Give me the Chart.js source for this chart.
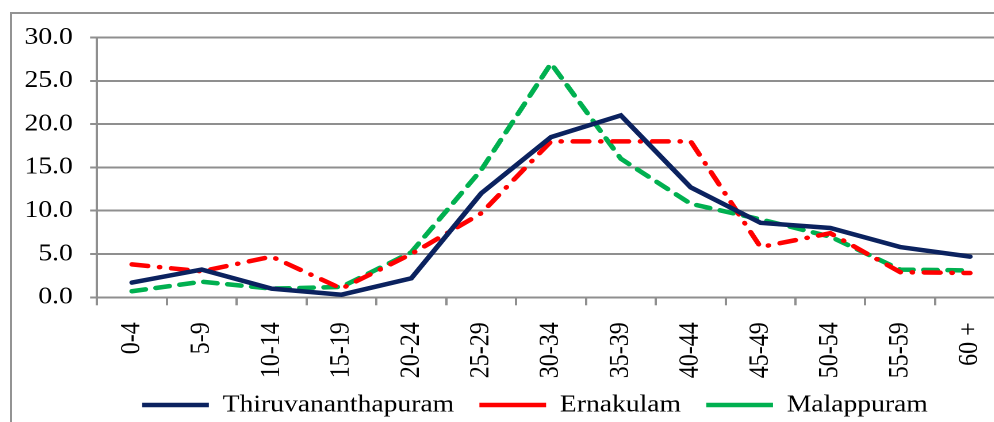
<!DOCTYPE html>
<html>
<head>
<meta charset="utf-8">
<script src="https://cdn.jsdelivr.net/npm/chart.js@4.4.1/dist/chart.umd.min.js"></script>
<style>
  html, body { margin: 0; padding: 0; width: 994px; height: 422px; overflow: hidden; background: #fff; }
  #frame { position: absolute; left: 10px; top: 12px; width: 1200px; height: 500px; border: 2px solid #939393; }
  /* the source picture is stretched sideways, so the canvas is too */
  #wrap { position: absolute; left: 10px; top: 13px; width: 939px; height: 414px; transform: scaleX(1.15); transform-origin: 0 0; }
</style>
</head>
<body>
<div id="frame"></div>
<div id="wrap"><canvas id="ageChart" width="939" height="414"></canvas></div>
<script>
// age groups and % share per district
var ageGroups = ['0-4', '5-9', '10-14', '15-19', '20-24', '25-29', '30-34', '35-39', '40-44', '45-49', '50-54', '55-59', '60 +'];
var thiruvananthapuram = [1.7, 3.2, 1.0, 0.3, 2.2, 12.0, 18.5, 21.0, 12.7, 8.6, 8.0, 5.8, 4.7];
var ernakulam = [3.8, 3.0, 4.7, 1.0, 5.0, 9.7, 18.0, 18.0, 18.0, 5.8, 7.4, 2.9, 2.8];
var malappuram = [0.7, 1.8, 1.0, 1.2, 5.2, 14.7, 27.0, 16.0, 10.8, 9.0, 7.0, 3.2, 3.1];
var yTicks = [0, 5, 10, 15, 20, 25, 30];

document.addEventListener("DOMContentLoaded", function() {
    var ctx = document.getElementById('ageChart').getContext('2d');
    var serif = "'Liberation Serif', 'Times New Roman', serif";
    var gridGray = '#8f8f8f';

    var chart = new Chart(ctx, {
        type: 'line',
        data: {
            labels: ageGroups,
            datasets: [{
                label: 'Thiruvananthapuram',
                data: thiruvananthapuram,
                borderColor: '#0b225f',
                backgroundColor: '#0b225f',
                borderWidth: 4.5,
                borderCapStyle: 'round',
                tension: 0,
                pointRadius: 0
            }, {
                label: 'Ernakulam',
                data: ernakulam,
                borderColor: '#ff0000',
                backgroundColor: '#ff0000',
                borderWidth: 4.5,
                borderDash: [14, 10, 0.5, 10],
                borderCapStyle: 'round',
                tension: 0,
                pointRadius: 0
            }, {
                label: 'Malappuram',
                data: malappuram,
                borderColor: '#00b050',
                backgroundColor: '#00b050',
                borderWidth: 4.5,
                borderDash: [12, 9],
                borderCapStyle: 'round',
                tension: 0,
                pointRadius: 0
            }]
        },
        options: {
            responsive: false,
            animation: false,
            devicePixelRatio: 2,
            // right padding only moves the legend; the plot edge comes from the x axis
            layout: { padding: { top: 24.5, left: 0, right: 26, bottom: 0 } },
            plugins: {
                tooltip: { enabled: false },
                legend: {
                    position: 'bottom',
                    labels: {
                        usePointStyle: true,
                        pointStyle: 'line',
                        pointStyleWidth: 58,
                        padding: 10,
                        color: '#000',
                        font: { family: serif, size: 24 },
                        // wider gap between entries than the legend's vertical padding
                        generateLabels: function(c) {
                            var items = Chart.defaults.plugins.legend.labels.generateLabels(c);
                            items.forEach(function(it, i) {
                                if (i < items.length - 1) it.text += '\u2002';
                            });
                            return items;
                        }
                    }
                }
            },
            scales: {
                x: {
                    offset: true,
                    grid: { offset: true, drawOnChartArea: false, color: gridGray, lineWidth: 2, tickLength: 8 },
                    border: { color: gridGray, width: 2 },
                    ticks: {
                        minRotation: 90, maxRotation: 90, autoSkip: false,
                        padding: 17, color: '#000',
                        font: { family: serif, size: 24 }
                    },
                    afterFit: function(scale) {
                        scale.height = 85.7;
                        scale.paddingRight = 73.8;
                    }
                },
                y: {
                    min: 0,
                    max: 30,
                    afterBuildTicks: function(scale) {
                        scale.ticks = yTicks.map(function(v) { return { value: v }; });
                    },
                    grid: { color: gridGray, lineWidth: 2, tickLength: 6 },
                    border: { color: gridGray, width: 2 },
                    ticks: {
                        padding: 15, color: '#000',
                        font: { family: serif, size: 24 },
                        callback: function(v) { return v.toFixed(1); }
                    },
                    afterFit: function(scale) {
                        scale.width = 75.65;
                        scale.paddingTop = 10;
                    }
                }
            }
        }
    });
});
</script>
</body>
</html>
